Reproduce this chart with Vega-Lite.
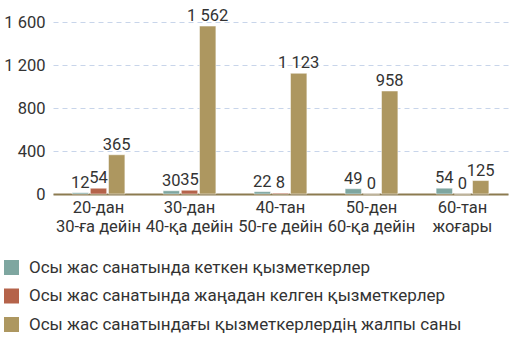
{
  "$schema": "https://vega.github.io/schema/vega-lite/v6.json",
  "width": 455,
  "height": 172,
  "autosize": "none",
  "padding": {"left": 53, "top": 22, "right": 4, "bottom": 163},
  "background": "white",
  "config": {
    "font": "Roboto",
    "view": {"stroke": null},
    "locale": {"number": {"decimal": ".", "thousands": " ", "grouping": [3], "currency": ["", ""]}}
  },
  "data": {
    "values": [
      {"cat": "20-дан\n30-ға дейін", "series": "Осы жас санатында кеткен қызметкерлер", "value": 12},
      {"cat": "20-дан\n30-ға дейін", "series": "Осы жас санатында жаңадан келген қызметкерлер", "value": 54},
      {"cat": "20-дан\n30-ға дейін", "series": "Осы жас санатындағы қызметкерлердің жалпы саны", "value": 365},
      {"cat": "30-дан\n40-қа дейін", "series": "Осы жас санатында кеткен қызметкерлер", "value": 30},
      {"cat": "30-дан\n40-қа дейін", "series": "Осы жас санатында жаңадан келген қызметкерлер", "value": 35},
      {"cat": "30-дан\n40-қа дейін", "series": "Осы жас санатындағы қызметкерлердің жалпы саны", "value": 1562},
      {"cat": "40-тан\n50-ге дейін", "series": "Осы жас санатында кеткен қызметкерлер", "value": 22},
      {"cat": "40-тан\n50-ге дейін", "series": "Осы жас санатында жаңадан келген қызметкерлер", "value": 8},
      {"cat": "40-тан\n50-ге дейін", "series": "Осы жас санатындағы қызметкерлердің жалпы саны", "value": 1123},
      {"cat": "50-ден\n60-қа дейін", "series": "Осы жас санатында кеткен қызметкерлер", "value": 49},
      {"cat": "50-ден\n60-қа дейін", "series": "Осы жас санатында жаңадан келген қызметкерлер", "value": 0},
      {"cat": "50-ден\n60-қа дейін", "series": "Осы жас санатындағы қызметкерлердің жалпы саны", "value": 958},
      {"cat": "60-тан\nжоғары", "series": "Осы жас санатында кеткен қызметкерлер", "value": 54},
      {"cat": "60-тан\nжоғары", "series": "Осы жас санатында жаңадан келген қызметкерлер", "value": 0},
      {"cat": "60-тан\nжоғары", "series": "Осы жас санатындағы қызметкерлердің жалпы саны", "value": 125}
    ]
  },
  "encoding": {
    "x": {
      "field": "cat", "type": "nominal", "sort": null,
      "scale": {"paddingInner": 0.42, "paddingOuter": 0.21},
      "axis": {
        "title": null, "labelAngle": 0, "ticks": false,
        "labelExpr": "split(datum.label, '\\n')",
        "labelFontSize": 16.5, "labelColor": "#333333", "labelLineHeight": 19.5,
        "labelPadding": 5, "domainColor": "#8c7b50", "domainWidth": 2, "grid": false
      }
    },
    "xOffset": {
      "field": "series", "type": "nominal", "sort": null,
      "scale": {"paddingInner": 0.1, "paddingOuter": 0}
    },
    "y": {
      "field": "value", "type": "quantitative",
      "scale": {"domain": [0, 1600], "nice": false},
      "axis": {
        "title": null, "values": [0, 400, 800, 1200, 1600], "format": ",d",
        "domain": false, "ticks": false, "labelFontSize": 16.5, "labelColor": "#333333",
        "labelPadding": 8, "gridColor": "#c8d5ea", "gridDash": [5, 4], "gridWidth": 1
      }
    }
  },
  "layer": [
    {
      "mark": {"type": "bar", "stroke": "white", "strokeWidth": 0.5},
      "encoding": {
        "color": {
          "field": "series", "type": "nominal", "sort": null,
          "scale": {
            "domain": ["Осы жас санатында кеткен қызметкерлер", "Осы жас санатында жаңадан келген қызметкерлер", "Осы жас санатындағы қызметкерлердің жалпы саны"],
            "range": ["#7ea6a0", "#b5634a", "#ad9760"]
          },
          "legend": {
            "title": null, "orient": "none", "legendX": -50, "legendY": 237,
            "direction": "vertical", "symbolType": "square", "symbolSize": 225,
            "symbolStrokeWidth": 0, "labelFontSize": 17, "labelColor": "#333333",
            "labelOffset": 9, "rowPadding": 10.5, "padding": 0, "labelLimit": 600
          }
        }
      }
    },
    {
      "mark": {"type": "text", "baseline": "alphabetic", "dy": -5, "fontSize": 16.5, "color": "#333333"},
      "encoding": {
        "text": {"field": "value", "type": "quantitative", "format": ",d"}
      }
    }
  ]
}
